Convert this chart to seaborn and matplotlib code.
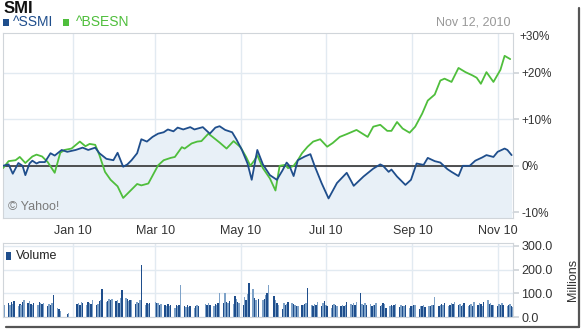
import numpy as np
import pandas as pd
import matplotlib
matplotlib.use("Agg")
import matplotlib.pyplot as plt
import matplotlib.dates as mdates
from matplotlib.patches import Rectangle
from matplotlib.lines import Line2D
import seaborn as sns

# ---------------- data ----------------
start = pd.Timestamp("2009-11-12")
end = pd.Timestamp("2010-11-12")

ssmi_day = [0, 4, 7, 11, 14, 16, 19, 21, 24, 26,
            30, 34, 37, 42, 46, 52, 57, 61, 66, 69,
            74, 79, 82, 86, 89, 92, 96, 99, 103, 107,
            111, 115, 118, 122, 125, 129, 134, 137, 143, 148,
            152, 155, 159, 164, 167, 171, 175, 178, 182, 186,
            191, 196, 200, 203, 205, 208, 211, 216, 220, 223,
            228, 233, 239, 246, 251, 258, 265, 270, 272, 276,
            278, 282, 288, 292, 296, 301, 304, 309, 313, 318,
            321, 326, 329, 334, 338, 343, 346, 351, 354, 359,
            361, 364]
ssmi_pct = [0.0, 0.3, -1.7, 0.6, 0.0, -2.0, 0.5, 1.1, 0.5, 0.8,
            0.8, 2.7, 2.2, 3.4, 3.0, 3.4, 3.9, 3.4, 3.9, 2.7,
            1.5, 1.2, 2.8, -0.2, 0.3, 1.2, 2.7, 5.7, 5.2, 6.2,
            6.9, 7.2, 7.8, 7.4, 8.2, 7.8, 8.3, 7.8, 8.3, 6.9,
            8.2, 8.5, 7.7, 7.2, 5.7, 3.4, 0.5, -3.0, 3.4, 0.3,
            -2.0, -3.0, -1.0, 0.7, 0.0, -2.2, 1.2, 2.0, 2.5, 0.0,
            -3.7, -7.0, -3.7, -1.5, -4.3, -2.3, -0.6, 0.3, 0.0, -1.3,
            -0.8, -2.3, -4.1, -3.0, 0.5, 0.2, 1.7, 1.0, 0.7, -0.7,
            -1.3, -2.2, 0.0, 0.0, 1.1, 1.8, 2.3, 1.9, 3.0, 3.7,
            3.4, 2.3]

bsesn_day = [0, 4, 9, 12, 16, 21, 24, 28, 32, 37,
             41, 44, 49, 55, 59, 62, 66, 69, 73, 77,
             82, 86, 89, 96, 99, 104, 111, 115, 120, 123,
             128, 130, 135, 139, 142, 147, 150, 155, 160, 165,
             170, 174, 177, 180, 182, 186, 191, 195, 198, 202,
             204, 208, 211, 214, 218, 222, 227, 232, 236, 241,
             246, 253, 261, 265, 270, 275, 278, 282, 286, 291,
             295, 300, 304, 309, 313, 316, 321, 326, 331, 336,
             339, 342, 346, 351, 356, 359, 363]
bsesn_pct = [-0.5, 1.0, 1.2, 1.9, 0.6, 2.0, 2.4, 2.0, 0.8, -1.5,
             2.8, 3.4, 3.7, 5.2, 4.2, 4.7, 4.5, 2.3, -1.3, -3.0,
             -4.4, -6.9, -6.0, -3.9, -4.2, -3.8, 0.1, 1.2, 1.7, 1.9,
             4.0, 3.7, 4.8, 5.2, 5.3, 6.9, 6.2, 5.0, 3.7, 5.3,
             4.0, 1.9, 0.0, 1.2, 2.3, -0.5, -2.7, -5.3, 0.0, 0.2,
             -0.5, 0.0, 1.2, 2.7, 4.1, 5.2, 5.7, 4.1, 4.9, 6.2,
             6.8, 7.7, 6.2, 8.4, 8.8, 7.5, 7.5, 9.4, 8.0, 7.1,
             8.4, 11.2, 14.0, 15.3, 18.3, 18.7, 18.0, 21.0, 20.1, 19.4,
             18.9, 17.6, 20.1, 18.0, 20.6, 23.6, 22.9]

# daily volume (millions), one value per business day, None = no trading
volume_m = [
    60, 52,
    58, 50, 62, 55, 68,
    48, 55, 50, 62, 70,
    58, 66, 55, 52, 60,
    50, 62, 58, 55, 60,
    48, 56, 52, 60, 94,
    36, 32, 25, None, None,
    14, 15, None, None, None,
    55, 60, 52, 65, 58,
    52, 62, 58, 56, 70,
    50, 55, 66, 72, 119,
    65, 68, 75, 70, 78,
    66, 72, 60, 82, 112,
    80, 75, 68, 72, 70,
    55, 64, 60, 72, 220,
    52, 58, 55, 60, None,
    62, 58, 60, 52, 55,
    50, 48, 55, 45, 52,
    40, 50, 48, 52, 133,
    45, 42, 50, 44, 48,
    40, 48, 52, 45, None,
    None, 55, 52, 58, 50,
    48, 56, 52, 60, 100,
    60, 102, 62, 58, 66,
    55, 90, 78, 62, 60,
    50, 85, 70, 95, 144,
    120, 80, 72, None, 75,
    70, 78, 92, 100, 133,
    None, 90, 70, 60, 50,
    35, 58, 52, 55, 62,
    60, 55, 52, 48, 45,
    50, 52, 55, 60, 123,
    50, 48, 55, 52, 62,
    48, 60, 66, 52, 45,
    38, 50, 55, 52, 48,
    45, 52, 48, 50, 62,
    55, 50, 58, 52, 62,
    100, 55, 50, 58, 52,
    55, 48, 52, 50, 60,
    45, 52, 58, 55, 40,
    45, 50, 48, 52, 55,
    42, 50, 46, 48, 52,
    38, 48, 45, 52, 50,
    35, 45, 48, 50, 42,
    48, 45, 50, 52, 84,
    45, 52, 55, 50, 60,
    48, 52, 58, 55, 62,
    50, 55, 48, 52, 58,
    45, 50, 55, 48, 62,
    52, 60, 55, 48, 62,
    70, 55, 58, 52, 50,
    48, 55, 52, 58, 50,
    45, 52, 55, 48, 42,
]

major_months = ["2010-01-01", "2010-03-01", "2010-05-01", "2010-07-01", "2010-09-01", "2010-11-01"]
major_labels = ["Jan 10", "Mar 10", "May 10", "Jul 10", "Sep 10", "Nov 10"]
minor_months = ["2009-12-01", "2010-02-01", "2010-04-01", "2010-06-01", "2010-08-01", "2010-10-01"]
pct_ticks = [-10, 0, 10, 20]
pct_labels = ["-10%", "0%", "+10%", "+20%"]
vol_ticks = [0, 100, 200, 300]
vol_labels = ["0.0", "100.0", "200.0", "300.0"]

# ---------------- style ----------------
BLUE = "#1f4e8c"
LIGHT_BAR = "#7ea2c8"
GREEN = "#4fbe3c"
FILL = "#e8f0f7"
GRID = "#e2eaf1"
SPINE = "#d0d5da"
TXT = "#333333"

sns.set_theme(style="white")
plt.rcParams["font.family"] = ["Liberation Sans", "DejaVu Sans"]

W, H = 584, 330
fig = plt.figure(figsize=(W / 100, H / 100), dpi=100)
fig.patch.set_facecolor("white")

def fx(px):
    return px / W

def fy(py):
    return 1 - py / H

ax = fig.add_axes([fx(3), fy(218), fx(510), 185 / H])
axv = fig.add_axes([fx(3), fy(317), fx(510), 74 / H])

YLO, YHI = -11.2, 28.5

df_s = pd.DataFrame({"date": start + pd.to_timedelta(ssmi_day, unit="D"), "pct": ssmi_pct})
df_b = pd.DataFrame({"date": start + pd.to_timedelta(bsesn_day, unit="D"), "pct": bsesn_pct})

ax.fill_between(df_s["date"], df_s["pct"], YLO, color=FILL, lw=0, zorder=1)
ax.axhline(0, color="#222222", lw=1.1, zorder=2)
sns.lineplot(data=df_b, x="date", y="pct", ax=ax, color=GREEN, lw=1.3, zorder=3)
sns.lineplot(data=df_s, x="date", y="pct", ax=ax, color=BLUE, lw=1.3, zorder=4)

ax.set_xlim(start, end)
ax.set_ylim(YLO, YHI)

for a in (ax, axv):
    a.set_xlabel("")
    a.set_ylabel("")
    a.set_facecolor("white")
    a.set_xticks(pd.to_datetime(major_months))
    a.set_xticks(pd.to_datetime(minor_months), minor=True)
    a.grid(True, which="major", axis="both", color=GRID, lw=1.0, zorder=0)
    a.set_axisbelow(True)
    a.yaxis.tick_right()
    for s in a.spines.values():
        s.set_color(SPINE)
        s.set_linewidth(0.8)
    a.tick_params(axis="x", which="both", length=3, color=SPINE, direction="out")
    a.tick_params(axis="y", length=4, color=SPINE, labelsize=8.5, labelcolor=TXT, pad=2)

ax.set_xticklabels(major_labels, fontsize=9, color=TXT)
ax.tick_params(axis="x", pad=2)
ax.set_yticks(pct_ticks)
ax.set_yticklabels(pct_labels)
fig.text(fx(519), fy(37), "+30%", fontsize=8.5, color=TXT, ha="left", va="center")

# volume bars
bdays = pd.bdate_range(start, end)
vol = pd.Series(volume_m, index=bdays, dtype=float).dropna()
colors = [BLUE if i % 2 == 0 else LIGHT_BAR for i in range(len(vol))]
axv.bar(vol.index, vol.values, width=1.05, color=colors, lw=0, zorder=2)
axv.set_xlim(start, end)
axv.set_ylim(0, 312)
axv.set_yticks(vol_ticks)
axv.set_yticklabels(vol_labels)
axv.tick_params(axis="y", pad=2, labelsize=9)
axv.tick_params(axis="x", labelbottom=False)

# ---------------- texts ----------------
fig.text(fx(4), fy(8.5), "SMI", fontsize=12, fontweight="bold", color="#111111", ha="left", va="center")
fig.add_artist(Rectangle((fx(3), fy(26)), fx(6), 7 / H, transform=fig.transFigure, color=BLUE, lw=0))
fig.text(fx(13), fy(22.5), "^SSMI", fontsize=10, color=BLUE, ha="left", va="center")
fig.add_artist(Rectangle((fx(63), fy(26)), fx(6), 7 / H, transform=fig.transFigure, color=GREEN, lw=0))
fig.text(fx(76), fy(22.5), "^BSESN", fontsize=10, color=GREEN, ha="left", va="center")
fig.text(fx(510), fy(22.5), "Nov 12, 2010", fontsize=9, color="#999999", ha="right", va="center")
fig.text(fx(8), fy(207), "\u00a9 Yahoo!", fontsize=9, color="#7a7a7a", ha="left", va="center")

fig.add_artist(Rectangle((fx(6), fy(260)), fx(5), 8 / H, transform=fig.transFigure, color=BLUE, lw=0))
fig.text(fx(16), fy(256), "Volume", fontsize=9, color="#222222", ha="left", va="center")
fig.text(fx(573), fy(280), "Millions", fontsize=9, color=TXT, rotation=90, ha="center", va="center")

# outer frame shadow
fig.add_artist(Line2D([fx(579), fx(579)], [fy(8), fy(327)], transform=fig.transFigure, color="#555555", lw=1.6))
fig.add_artist(Line2D([fx(6), fx(579)], [fy(327), fy(327)], transform=fig.transFigure, color="#555555", lw=1.6))

fig.savefig("out.png", dpi=100, facecolor="white")
